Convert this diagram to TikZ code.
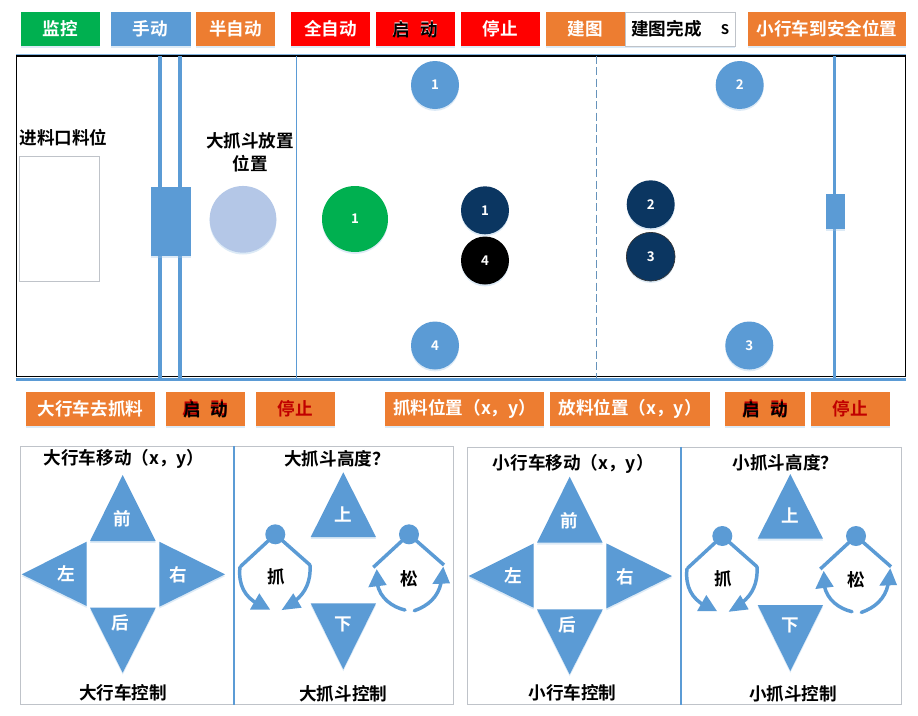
\documentclass[tikz,border=0pt]{standalone}
\usepackage{fontspec}
\setmainfont{Noto Sans CJK SC}[BoldFont={Noto Sans CJK SC Bold}]
\usetikzlibrary{shadows}
\definecolor{ublue}{HTML}{5B9BD5}
\definecolor{uorange}{HTML}{ED7D31}
\definecolor{ugreen}{HTML}{00B050}
\definecolor{ured}{HTML}{FF0000}
\definecolor{ulight}{HTML}{B4C7E7}
\definecolor{unavy}{HTML}{0B3661}
\definecolor{ugray}{HTML}{BFC3C9}
\definecolor{udark}{HTML}{C00000}
\definecolor{ushadow}{HTML}{9DC3E6}
\tikzset{
  softshadow/.style={drop shadow={shadow xshift=0pt,shadow yshift=-1.4pt,opacity=.35,fill=ushadow}},
  lbl/.style={font=\bfseries\fontsize{13.2pt}{16pt}\selectfont,inner sep=0pt,align=center},
  whitelbl/.style={lbl,text=white},
  btn/.style={font=\bfseries\fontsize{13.2pt}{16pt}\selectfont,inner sep=0pt,text=white,softshadow},
  num/.style={circle,inner sep=0pt,text=white,font=\bfseries\fontsize{10pt}{12pt}\selectfont,softshadow},
  rail/.style={draw=ublue},
  tri/.style={fill=ublue,softshadow},
  grip/.style={draw=ublue,line width=2.6pt},
  griparc/.style={draw=ublue,line width=2.6pt,line cap=round},
}
% name, x0, y0, x1, y1, fill, text
\newcommand{\ubtn}[7]{%
  \pgfmathsetmacro{\ucx}{(#2+#4)/2}\pgfmathsetmacro{\ucy}{(#3+#5)/2}%
  \pgfmathsetmacro{\uw}{(#4-#2)*0.75}\pgfmathsetmacro{\uh}{(#5-#3)*0.75}%
  \node[btn,fill=#6,minimum width=\uw pt,minimum height=\uh pt] (#1) at (\ucx,\ucy) {#7};}
% name, cx, cy, under colour, top colour
\newcommand{\ustart}[5]{%
  \node[lbl,text=#4] (#1u) at (#2,#3-0.6) {启\hspace{10\pxu}动};
  \node[lbl,text=#5] (#1t) at (#2+0.5,#3+0.8) {启\hspace{10\pxu}动};}
\newlength{\pxu}\setlength{\pxu}{0.75pt}
\newcommand{\ushapes}[3]{%
 \begin{scope}[shift={(#2,#3)}]
  \fill[tri] (122.7,475)--(155.7,541)--(90,541)--cycle;
  \fill[tri] (159.3,541.7)--(225,574.3)--(159.3,606.7)--cycle;
  \fill[tri] (86.7,541.7)--(21.7,574.3)--(86.7,606)--cycle;
  \fill[tri] (90,607.7)--(155.7,607.7)--(122.7,672.7)--cycle;
  \node[whitelbl] (#1front) at (122.7,519) {前};
  \node[whitelbl] (#1left) at (66.7,574) {左};
  \node[whitelbl] (#1right) at (178.3,575) {右};
  \node[whitelbl] (#1back) at (120,623) {后};
  \fill[tri] (343.3,472.3)--(376,537)--(310.7,537)--cycle;
  \fill[tri] (310.7,603.3)--(376,603.3)--(343.3,669.3)--cycle;
  \node[whitelbl] (#1up) at (343.3,514) {上};
  \node[whitelbl] (#1down) at (343.3,624) {下};
  % grab
  \draw[griparc] (240,567) .. controls (238,585) and (245,597) .. (258,604);
  \draw[griparc] (310,565) .. controls (311,582) and (305,593) .. (295,601);
  \fill[ublue] (270,609.5)--(259.3,593.3)--(250,609.5)--cycle;
  \fill[ublue] (281.7,610)--(293.3,593.3)--(301.7,607.7)--cycle;
  \draw[grip] (275.3,534.3)--(240.5,566.5);
  \draw[grip] (275.3,534.3)--(310,565);
  \fill[ublue] (275.3,534.3) circle[radius=10];
  \node[lbl] (#1grab) at (276,577) {抓};
  % release
  \draw[griparc] (405,610) .. controls (392,607) and (380,598) .. (377.3,584);
  \draw[griparc] (414.3,610.7) .. controls (428,606) and (438,597) .. (441,583);
  \fill[ublue] (376.7,569.3)--(368.3,587.3)--(386.7,585)--cycle;
  \fill[ublue] (443.3,566.7)--(432.3,584)--(450,583.3)--cycle;
  \draw[grip] (409,534.3)--(373.3,567.3);
  \draw[grip] (409,534.3)--(444,565);
  \fill[ublue] (409,534.3) circle[radius=10];
  \node[lbl] (#1free) at (409.3,578.3) {松};
 \end{scope}}
\begin{document}
\begin{tikzpicture}[x=0.75pt,y=-0.75pt]
\useasboundingbox[fill=white] (0,0) rectangle (918,715);
% top row
\ubtn{jk}{21}{12}{100}{46}{ugreen}{监控}
\ubtn{sd}{110.5}{12}{190.5}{46}{ublue}{手动}
\ubtn{bzd}{196}{12}{275}{46}{uorange}{半自动}
\ubtn{qzd}{291}{12}{370}{46}{ured}{全自动}
\ubtn{qd}{376}{12}{455}{46}{ured}{}
\ustart{qdl}{415}{29}{white}{black}
\ubtn{tz}{461}{12}{540}{46}{ured}{停止}
\ubtn{jt}{546}{12}{625}{46}{uorange}{建图}
\node[draw=ugray,line width=0.75pt,fill=white,minimum width=82.5pt,minimum height=25.5pt,inner sep=0pt,softshadow] (jtok) at (680,29) {};
\node[lbl] (jtoktext) at (666.5,29) {建图完成};
\node[lbl,font=\bfseries\fontsize{10pt}{12pt}\selectfont] (jtoks) at (725,29.5) {S};
\ubtn{safe}{748}{12}{906}{46}{uorange}{小行车到安全位置}
% main field
\draw[draw=ublue,line width=1.2pt,opacity=.75] (16,55)--(906,55);
\draw[draw=ublue,line width=1.6pt] (16,379.5)--(906,379.5);
\draw[black,line width=0.9pt] (16.5,56) rectangle (905.5,376.5);
\draw[rail,line width=2.6pt] (160,56)--(160,379);
\draw[rail,line width=2.3pt] (180,56)--(180,379);
\draw[rail,line width=1.1pt] (296.5,56)--(296.5,379);
\draw[draw=ublue!70!gray,line width=1.1pt,dashed,dash pattern=on 6pt off 2.5pt] (596.5,56)--(596.5,379);
\draw[rail,line width=2.3pt] (834.7,56)--(834.7,378);
\ubtn{bigcar}{151}{186.7}{190.5}{256}{ublue}{}
\ubtn{smallcar}{825.7}{194.3}{845.3}{229}{ublue}{}
\node[lbl] (inlabel) at (63.5,137.7) {进料口料位};
\node[draw=ugray,line width=0.75pt,minimum width=60pt,minimum height=93.5pt,inner sep=0pt] (inbox) at (59.5,218.7) {};
\node[lbl] (park) at (250,152) {大抓斗放置\\[1pt]位置};
\node[circle,fill=ulight,minimum size=50pt,inner sep=0pt,softshadow] (parkc) at (243,219.3) {};
\node[num,fill=ugreen,minimum size=49.5pt] (g1) at (355,219) {1};
\node[num,fill=ublue,minimum size=36pt] (p1) at (435,85) {1};
\node[num,fill=ublue,minimum size=36pt] (p2) at (739.7,85) {2};
\node[num,fill=ublue,minimum size=36pt] (p3) at (749.3,345.5) {3};
\node[num,fill=ublue,minimum size=36pt] (p4) at (435,345.5) {4};
\node[num,fill=unavy,minimum size=36pt] (d1) at (485,210.3) {1};
\node[num,fill=black,minimum size=36pt] (d4) at (485,260.5) {4};
\node[num,fill=unavy,minimum size=36pt] (d2) at (650.7,204.3) {2};
\node[num,fill=unavy,draw=black!80,line width=0.5pt,minimum size=36.5pt] (d3) at (650.7,256.7) {3};
% lower buttons
\ubtn{gofetch}{26}{392}{155}{425.7}{uorange}{大行车去抓料}
\ubtn{bs1}{166}{392}{245}{425.7}{uorange}{}
\ustart{bs1l}{205.5}{408.8}{udark}{black}
\ubtn{bt1}{256}{392}{335}{425.7}{uorange}{\textcolor{udark}{停止}}
\ubtn{fetchpos}{385.3}{392}{544}{425.7}{uorange}{抓料位置（x，y）}
\ubtn{droppos}{550}{392}{710}{425.7}{uorange}{放料位置（x，y）}
\ubtn{bs2}{725}{392}{805}{425.7}{uorange}{}
\ustart{bs2l}{765}{408.8}{udark}{black}
\ubtn{bt2}{810.5}{392}{890}{425.7}{uorange}{\textcolor{udark}{停止}}
% panels
\node[draw=ugray,line width=0.75pt,minimum width=325pt,minimum height=193.2pt,inner sep=0pt] (panelA) at (237.2,575.5) {};
\node[draw=ugray,line width=0.75pt,minimum width=325.5pt,minimum height=193.1pt,inner sep=0pt] (panelB) at (684.3,576.2) {};
\draw[rail,line width=1.5pt] (panelA.north -| 234,0) -- (panelA.south -| 234,0);
\draw[rail,line width=1.5pt] (panelB.north -| 681.3,0) -- (panelB.south -| 681.3,0);
\ushapes{a}{0}{0}
\ushapes{b}{447}{1.7}
\node[lbl] (atitle) at (124,459) {大行车移动（x，y）};
\node[lbl] (atitle2) at (337,459) {大抓斗高度？};
\node[lbl] (afoot) at (123,692.7) {大行车控制};
\node[lbl] (afoot2) at (343.3,694) {大抓斗控制};
\node[lbl] (btitle) at (573.3,464) {小行车移动（x，y）};
\node[lbl] (btitle2) at (785.5,463) {小抓斗高度？};
\node[lbl] (bfoot) at (572.5,693) {小行车控制};
\node[lbl] (bfoot2) at (793,694) {小抓斗控制};
\end{tikzpicture}
\end{document}
